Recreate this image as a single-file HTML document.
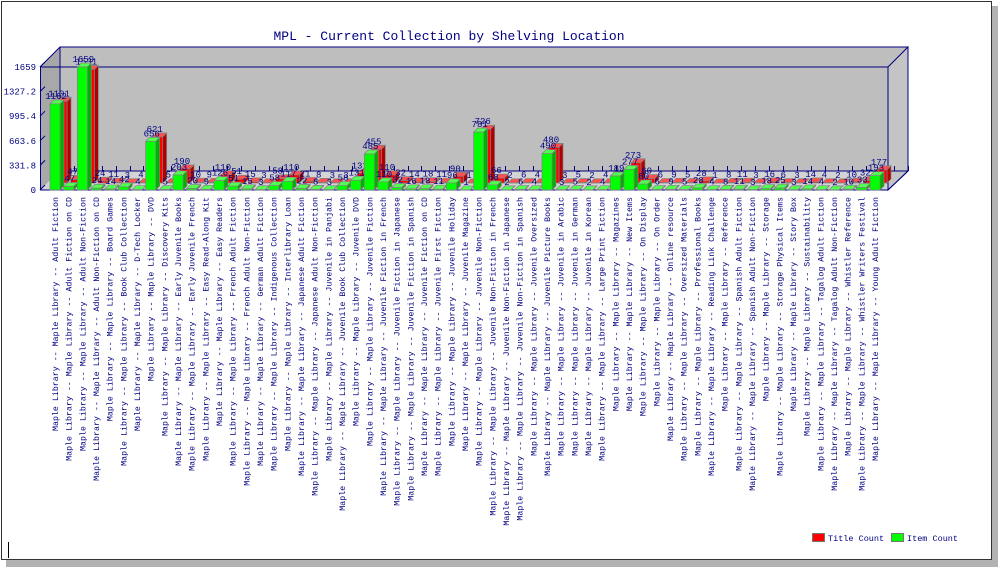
<!DOCTYPE html>
<html><head><meta charset="utf-8">
<style>
html,body{margin:0;padding:0;background:#fff;width:999px;height:568px;overflow:hidden}
svg{display:block}
text{font-family:"Liberation Mono","DejaVu Sans Mono",monospace;fill:#000080}
</style></head>
<body>
<svg id="chart" width="999" height="568" viewBox="0 0 999 568">
  <rect x="6" y="6" width="992" height="561" fill="#555" opacity="0.45"/>
  <rect x="1.5" y="1.5" width="990" height="558" fill="#fff" stroke="#333"/>
  <line x1="8.5" y1="542" x2="8.5" y2="558" stroke="#000"/>
  <text x="449" y="40" font-size="13" text-anchor="middle">MPL - Current Collection by Shelving Location</text>
  <g id="plot"></g>
  <g>
    <g>
      <rect x="812.5" y="533.5" width="12" height="8" fill="#ff0000" stroke="#777"/>
      <text x="828" y="541" font-size="8.5">Title Count</text>
    </g>
    <g>
      <rect x="891.5" y="533.5" width="12" height="8" fill="#00ff00" stroke="#777"/>
      <text x="907" y="541" font-size="8.5">Item Count</text>
    </g>
  </g>
</svg>
<script>
const categories = ["Adult Fiction","Adult Fiction on CD","Adult Non-Fiction","Adult Non-Fiction on CD","Board Games","Book Club Collection","D-Tech Locker","DVD","Discovery Kits","Early Juvenile Books","Early Juvenile French","Easy Read-Along Kit","Easy Readers","French Adult Fiction","French Adult Non-Fiction","German Adult Fiction","Indigenous Collection","Interlibrary Loan","Japanese Adult Fiction","Japanese Adult Non-Fiction","Juvenile  in Panjabi","Juvenile Book Club Collection","Juvenile DVD","Juvenile Fiction","Juvenile Fiction in French","Juvenile Fiction in Japanese","Juvenile Fiction in Spanish","Juvenile Fiction on CD","Juvenile First Fiction","Juvenile Holiday","Juvenile Magazine","Juvenile Non-Fiction","Juvenile Non-Fiction in French","Juvenile Non-Fiction in Japanese","Juvenile Non-Fiction in Spanish","Juvenile Oversized","Juvenile Picture Books","Juvenile in Arabic","Juvenile in German","Juvenile in Korean","Large Print Fiction","Magazines","New Items","On Display","On Order","Online resource","Oversized Materials","Professional Books","Reading Link Challenge","Reference","Spanish Adult Fiction","Spanish Adult Non-Fiction","Storage","Storage Physical Items","Story Box","Sustainability","Tagalog Adult Fiction","Tagalog Adult Non-Fiction","Whistler Reference","Whistler Writers Festival","Young Adult Fiction"];
const itemCount = [1162,47,1659,24,14,42,4,656,5,203,20,9,126,51,15,3,58,117,22,8,3,58,131,485,110,32,16,18,11,96,1,781,68,2,6,4,490,3,5,2,4,189,277,80,6,9,5,28,4,8,11,3,18,25,3,14,4,2,10,33,193];
const titleCount = [1101,47,1531,24,11,3,4,621,5,190,10,9,110,51,15,3,58,110,21,8,3,3,131,455,110,32,14,18,11,90,1,726,66,2,6,4,480,3,5,2,4,10,273,60,6,9,5,28,1,8,11,3,16,6,3,14,4,2,10,32,177];
const tickLabels = ["0","331.8","663.6","995.4","1327.2","1659"];
const maxValue = 1659;

const NS="http://www.w3.org/2000/svg";
const plot=document.getElementById('plot');
const X0=40, X1=888, YB=190, YT=67, DX=20, DY=-20;
function yScale(v){return YB-(v/maxValue)*(YB-YT);}
function xCenter(i){return 55+i*((875-55)/(categories.length-1));}
function mk(tag,attrs,parent){const e=document.createElementNS(NS,tag);for(const k in attrs)e.setAttribute(k,attrs[k]);(parent||plot).appendChild(e);return e;}

let w=mk('polygon',{points:`${X0},${YT} ${X0+DX},${YT+DY} ${X0+DX},${YB+DY+1} ${X0},${YB}`,fill:'#a8a8a8'});


w=mk('rect',{x:X0+DX,y:YT+DY,width:X1-X0,height:YB-YT+1,fill:'#bebebe'});


w=mk('polygon',{points:`${X0},${YB} ${X0+DX},${YB+DY+1} ${X1+DX},${YB+DY+1} ${X1},${YB}`,fill:'#d4d4d4'});


w=mk('polygon',{points:`${X1},${YT} ${X1+DX},${YT+DY} ${X1+DX},${YB+DY+1} ${X1},${YB}`,fill:'#c4c4c4',stroke:'#000080','stroke-width':1});


w=mk('path',{d:`M${X0},${YT} L${X0+DX},${YT+DY} L${X1+DX},${YT+DY} M${X0},${YT} L${X1},${YT} M${X0+DX},${YT+DY} L${X0+DX},${YB+DY+1} L${X1+DX},${YB+DY+1} M${X0},${YB} L${X1},${YB} L${X1+DX},${YB+DY+1}`,stroke:'#000080',fill:'none','stroke-width':1});


for(let i=0;i<=categories.length;i++){
  const tx=Math.round(X0+DX+i*(X1-X0)/categories.length)+0.5;
  const t=mk('line',{x1:tx,y1:YB+DY+1,x2:tx,y2:YB+DY-4,stroke:'#000080'});
  
  
}
const ax=mk('line',{x1:X0+0.5,y1:YT,x2:X0+0.5,y2:YB,stroke:'#000080'});


tickLabels.forEach((lab,k)=>{
  const v=maxValue*k/(tickLabels.length-1);
  const y=yScale(v);
  const t=mk('text',{x:X0-4,y:y+3,'font-size':9,'text-anchor':'end'});
  t.textContent=lab;
  
  
  const l=mk('line',{x1:X0,y1:y,x2:X0+DX*0.25,y2:y+DY*0.25,stroke:'#000080'});
  
  
});

function bar3d(cx,base,v,front,side,top,name,dx,dy){
  const g=mk('g',{});
  
  
  const h=(v/maxValue)*(YB-YT);
  const wd=10, d=4;
  const x=cx-5+dx, y0=base+dy, y1=y0-h;
  mk('polygon',{points:`${x},${y1} ${x+d},${y1-d} ${x+wd+d},${y1-d} ${x+wd},${y1}`,fill:top,stroke:'#808080','stroke-width':0.7},g);
  mk('polygon',{points:`${x+wd},${y1} ${x+wd+d},${y1-d} ${x+wd+d},${y0-d} ${x+wd},${y0}`,fill:side,stroke:'#808080','stroke-width':0.7},g);
  mk('rect',{x:x,y:y1,width:wd,height:h,fill:front,stroke:'#808080','stroke-width':0.7},g);
  return y1-d;
}
categories.forEach((c,i)=>{
  const top=bar3d(xCenter(i),YB,titleCount[i],'#ff0000','#b00000','#ff5050','bar-title-count',7,-7);
  const t=mk('text',{x:xCenter(i)+4,y:top-1,'font-size':9,'text-anchor':'middle'});
  t.textContent=titleCount[i];
  
  
});
categories.forEach((c,i)=>{
  const top=bar3d(xCenter(i),YB,itemCount[i],'#00ff00','#00b000','#50ff50','bar-item-count',0,0);
  const t=mk('text',{x:xCenter(i)+1,y:top-1,'font-size':9,'text-anchor':'middle'});
  t.textContent=itemCount[i];
  
  
});
categories.forEach((c,i)=>{
  const x=xCenter(i)+3;
  const t=mk('text',{x:0,y:0,'font-size':8.3,'text-anchor':'end',transform:`translate(${x},197) rotate(-90)`});
  t.textContent='Maple Library -- Maple Library -- '+c;
  
  
});
</script>
</body></html>
